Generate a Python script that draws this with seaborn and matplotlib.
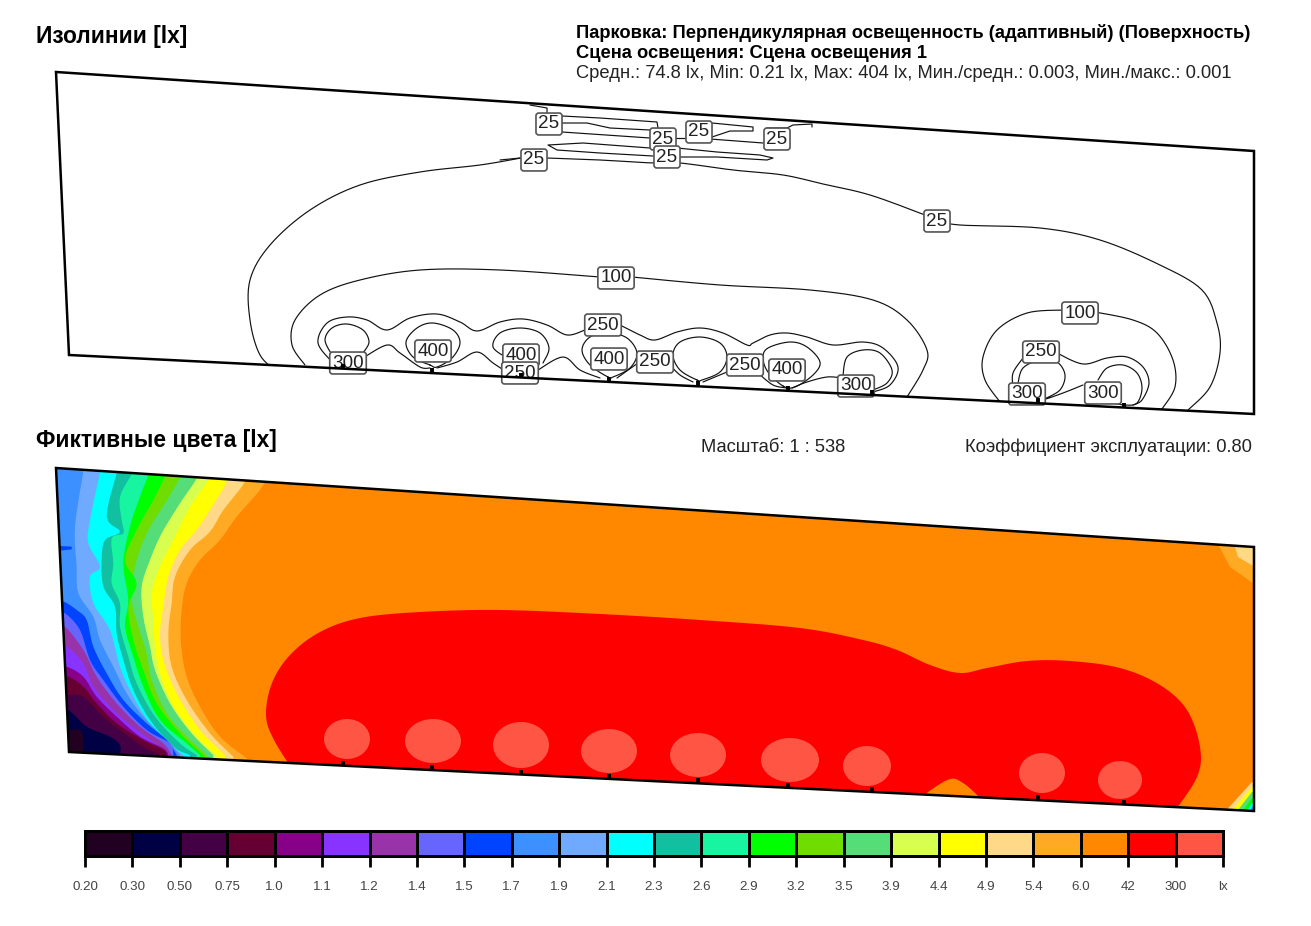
import numpy as np
import seaborn as sns
import matplotlib
matplotlib.use("Agg")
import matplotlib.pyplot as plt
from matplotlib.colors import ListedColormap
from matplotlib.patches import Polygon, Ellipse

# legend of the false colour map
legend_labels = ["0.20", "0.30", "0.50", "0.75", "1.0", "1.1", "1.2", "1.4", "1.5", "1.7", "1.9", "2.1",
                 "2.3", "2.6", "2.9", "3.2", "3.5", "3.9", "4.4", "4.9", "5.4", "6.0", "42", "300", "lx"]
legend_colors = ["#220022", "#000044", "#440044", "#660033", "#880088", "#8833ff", "#9933aa", "#6666ff",
                 "#0044ff", "#3c90ff", "#70aaff", "#00ffff", "#10c0a0", "#18f5a0", "#00ff00", "#70dd00",
                 "#55dd77", "#d8ff50", "#ffff00", "#ffd888", "#ffaa22", "#ff8800", "#ff0000", "#ff5544"]

# site outlines
iso_site = [(56, 72), (1254, 151), (1254, 414), (69, 355)]
color_site = [(56, 468), (1254, 547), (1254, 811), (69, 752)]
lum_x = [343, 432, 521, 609, 698, 788, 872, 1038, 1124]

# band edges of the left side, each band lies left of its edge (5.4 lx down to 0.20 lx)
band_edges = [
    [(680, 10), (670, 75), (590, 170), (540, 240), (480, 300), (440, 370), (425, 450), (423, 550), (440, 650), (480, 740), (540, 830), (620, 895)],
    [(625, 10), (615, 65), (550, 150), (510, 215), (450, 270), (405, 350), (395, 430), (385, 520), (395, 620), (440, 720), (510, 820), (580, 890)],
    [(570, 10), (560, 65), (510, 150), (470, 210), (420, 270), (385, 350), (370, 440), (360, 520), (370, 600), (410, 700), (480, 810), (555, 885)],
    [(515, 10), (505, 60), (450, 140), (400, 240), (360, 320), (335, 400), (340, 480), (345, 560), (360, 640), (400, 740), (470, 830), (530, 885)],
    [(480, 10), (470, 55), (420, 130), (365, 220), (330, 300), (305, 380), (310, 470), (330, 560), (345, 630), (390, 730), (455, 820), (520, 885)],
    [(430, 10), (420, 52), (375, 130), (320, 220), (285, 320), (275, 420), (295, 500), (320, 580), (335, 660), (380, 760), (440, 830), (500, 885)],
    [(385, 10), (375, 48), (340, 120), (290, 210), (255, 300), (290, 370), (265, 440), (280, 540), (310, 630), (350, 730), (420, 820), (490, 885)],
    [(335, 10), (325, 45), (300, 110), (270, 200), (250, 310), (265, 420), (255, 500), (280, 590), (310, 680), (360, 780), (440, 850), (480, 885)],
    [(285, 10), (275, 42), (240, 110), (245, 180), (250, 220), (215, 235), (220, 310), (215, 370), (240, 430), (240, 500), (265, 590), (290, 670), (345, 770), (420, 850), (470, 885)],
    [(240, 10), (230, 40), (200, 170), (240, 215), (195, 240), (185, 300), (190, 380), (225, 440), (230, 520), (250, 600), (280, 690), (330, 780), (400, 860), (450, 885)],
    [(185, 10), (180, 38), (150, 180), (145, 250), (180, 320), (150, 350), (160, 430), (210, 510), (240, 620), (280, 710), (330, 790), (400, 860), (430, 885)],
    [(135, 10), (130, 35), (105, 200), (110, 320), (115, 400), (160, 470), (180, 540), (220, 620), (260, 700), (310, 770), (380, 840), (420, 885)],
    [(40, 420), (72, 425), (110, 450), (140, 480), (160, 560), (200, 640), (250, 720), (320, 790), (380, 840), (410, 885)],
    [(40, 455), (75, 460), (120, 510), (150, 600), (190, 660), (250, 740), (320, 810), (390, 850), (400, 885)],
    [(40, 500), (75, 500), (130, 570), (170, 650), (230, 730), (300, 800), (370, 850), (395, 885)],
    [(40, 560), (80, 560), (130, 610), (160, 680), (220, 750), (290, 810), (360, 860), (390, 885)],
    [(40, 620), (80, 620), (130, 650), (170, 710), (230, 770), (300, 830), (370, 865), (385, 885)],
    [(40, 650), (85, 650), (130, 680), (170, 730), (230, 790), (310, 840), (370, 870), (380, 885)],
    [(40, 705), (85, 705), (130, 710), (190, 770), (240, 810), (310, 860), (360, 885)],
    [(40, 750), (85, 750), (140, 800), (210, 830), (240, 855), (240, 885)],
    [(40, 810), (90, 810), (125, 815), (130, 885)],
]
blue_notch = [(60, 258), (95, 260), (95, 268), (60, 272)]

red_zone = [(296, 775), (274, 740), (266, 715), (272, 683), (290, 655), (320, 632), (360, 618), (420, 612), (500, 610), (600, 614),
            (700, 620), (800, 628), (863, 640), (897, 650), (930, 665), (960, 673), (987, 668), (1027, 661),
            (1070, 661), (1120, 668), (1160, 685), (1187, 710), (1200, 747), (1197, 777), (1172, 815)]
orange_notch = [(920, 800), (928, 792), (950, 779), (963, 783), (977, 795), (985, 805)]
peak_centers = [(347, 739), (433, 741), (521, 745), (609, 751), (698, 755), (790, 760), (867, 766), (1042, 773), (1120, 780)]
peak_radii = [(23, 20), (28, 22), (28, 23), (28, 22), (28, 22), (29, 22), (24, 20), (23, 20), (22, 19)]

top_corner = [((1216, 540), (1230, 567), (1260, 588), "#ffaa22"),
              ((1233, 540), (1238, 557), (1260, 570), "#ffd888")]
low_corner = [((1222, 815), (1252, 782), "#ffd888"), ((1228, 815), (1252, 787), "#ffff00"),
              ((1234, 815), (1252, 792), "#55dd77"), ((1240, 815), (1252, 798), "#00ff00"),
              ((1244, 815), (1252, 803), "#00ffff"), ((1248, 815), (1252, 807), "#3c90ff")]

# isolines, open ones
iso_open = [
    [(521, 158), (480, 165), (420, 172), (360, 185), (310, 210), (270, 245), (250, 280), (250, 320), (260, 355), (278, 372)],
    [(547, 158), (600, 160), (653, 163), (680, 163), (733, 170), (783, 175), (823, 184), (870, 195), (925, 215), (937, 220),
     (960, 225), (1040, 228), (1100, 240), (1160, 265), (1202, 290), (1217, 323), (1220, 353), (1210, 387), (1188, 410)],
    [(600, 277), (500, 270), (420, 270), (360, 280), (320, 295), (295, 320), (292, 345), (305, 365)],
    [(632, 277), (720, 285), (810, 290), (873, 300), (907, 320), (927, 350), (923, 370), (907, 397)],
    [(1063, 310), (1027, 313), (997, 330), (983, 357), (985, 380), (1000, 402)],
    [(1095, 312), (1133, 320), (1157, 333), (1173, 360), (1175, 387), (1162, 409)],
    [(333, 363), (318, 343), (327, 323), (347, 317), (367, 320), (387, 330), (410, 318), (437, 314), (460, 322), (477, 331),
     (500, 322), (523, 319), (547, 325), (567, 335), (585, 330)],
    [(620, 325), (640, 335), (655, 340), (677, 332), (700, 328), (723, 333), (747, 345), (753, 343), (770, 335), (787, 333),
     (807, 337), (833, 345), (863, 342), (883, 348), (898, 367), (890, 385), (873, 392)],
    [(363, 358), (387, 345), (400, 353), (420, 367), (430, 368)],
    [(437, 368), (457, 362), (477, 352), (493, 363), (505, 371)],
    [(538, 370), (563, 357), (580, 370), (600, 378)],
    [(617, 378), (638, 363)],
    [(670, 365), (680, 375), (693, 382)],
    [(703, 382), (727, 372)],
    [(758, 373), (773, 385), (787, 388)],
    [(792, 388), (807, 382), (827, 377), (842, 378)],
    [(332, 355), (325, 340), (332, 328), (347, 324), (363, 330), (369, 342), (363, 353)],
    [(507, 358), (493, 347), (500, 333), (520, 328), (540, 333), (549, 348), (543, 363)],
    [(843, 375), (847, 357), (863, 350), (880, 353), (892, 370), (887, 383), (873, 390)],
    [(1023, 358), (1013, 373), (1013, 387)],
    [(1057, 353), (1083, 364), (1107, 358), (1127, 357), (1143, 367), (1149, 383), (1142, 400), (1133, 405)],
    [(1018, 383), (1023, 368), (1040, 360), (1057, 362), (1065, 375), (1060, 390), (1045, 399), (1063, 393), (1083, 385)],
    [(1098, 380), (1107, 368), (1123, 365), (1137, 373), (1142, 388), (1137, 403), (1125, 405), (1107, 402)],
]
# jagged small lines near the top, drawn without smoothing
iso_jagged = [
    [(530, 105), (547, 108), (547, 113)],
    [(562, 116), (600, 118), (657, 122), (658, 128)],
    [(562, 123), (587, 123), (610, 128), (650, 130)],
    [(562, 132), (650, 138)],
    [(675, 138), (685, 138)],
    [(712, 123), (753, 127), (753, 131), (730, 131), (712, 137)],
    [(710, 139), (763, 143)],
    [(767, 128), (787, 128), (793, 125), (812, 124), (812, 127)],
    [(653, 156), (600, 153), (557, 150), (548, 145), (583, 143), (650, 148), (677, 148), (717, 152), (760, 155), (773, 158),
     (767, 160), (717, 157), (680, 157)],
    [(500, 160), (520, 158)],
]
# closed isolines
iso_closed = [
    [(430, 365), (413, 357), (406, 342), (417, 328), (433, 323), (453, 330), (460, 343), (452, 358), (437, 367)],
    [(608, 377), (590, 365), (582, 350), (590, 337), (608, 333), (627, 338), (637, 353), (630, 368), (613, 377)],
    [(697, 380), (680, 370), (673, 355), (680, 342), (700, 337), (720, 343), (727, 357), (720, 372), (702, 380)],
    [(783, 386), (768, 372), (763, 358), (768, 348), (790, 342), (807, 347), (820, 362), (813, 375), (795, 387)],
]

# later labels cover earlier ones, 250 sits on top of 400 in the middle
iso_labels = [("400", 433, 350), ("400", 521, 354), ("400", 609, 358), ("400", 787, 369),
              ("25", 549, 123), ("25", 663, 138), ("25", 699, 131), ("25", 777, 138), ("25", 534, 159), ("25", 667, 156),
              ("25", 937, 220), ("100", 616, 277), ("100", 1080, 312), ("250", 603, 324), ("250", 520, 372), ("250", 655, 361),
              ("250", 745, 364), ("250", 1041, 351), ("300", 348, 362), ("300", 856, 385), ("300", 1027, 393), ("300", 1103, 392)]


def smooth(points, closed=False, steps=8):
    # catmull-rom through the traced points, keeps the outline on them
    pts = np.array(points, dtype=float)
    if closed:
        pts = np.vstack([pts[-1:], pts, pts[:2]])
    else:
        pts = np.vstack([pts[:1], pts, pts[-1:]])
    out = []
    t = np.linspace(0, 1, steps, endpoint=False)[:, None]
    for i in range(1, len(pts) - 2):
        p0, p1, p2, p3 = pts[i - 1], pts[i], pts[i + 1], pts[i + 2]
        out.append(0.5 * (2 * p1 + (p2 - p0) * t + (2 * p0 - 5 * p1 + 4 * p2 - p3) * t ** 2
                          + (3 * p1 - p0 - 3 * p2 + p3) * t ** 3))
    out = np.vstack(out)
    return np.vstack([out, pts[-2:-1]]) if not closed else np.vstack([out, out[:1]])


def zoom_to_px(points):
    return [(40 + x / 3, 460 + y / 3) for x, y in points]


def edge_y(site, x):
    return np.interp(x, [site[3][0], site[2][0]], [site[3][1], site[2][1]])


sns.set_style("white")
plt.rcParams["font.family"] = ["Liberation Sans", "DejaVu Sans"]

fig = plt.figure(figsize=(13.11, 9.26), dpi=100)
ax = fig.add_axes([0, 0, 1, 1])
ax.set_xlim(0, 1311)
ax.set_ylim(926, 0)
ax.axis("off")

# false colours
clip = Polygon(color_site, closed=True, transform=ax.transData)


def fill(points, color, z=2):
    patch = ax.fill(*np.array(points).T, color=color, lw=0, zorder=z)[0]
    patch.set_clip_path(clip)


fill(color_site, legend_colors[21], 1)
for i, edge in enumerate(band_edges):
    pts = smooth(edge, steps=5)
    outline = [tuple(p) for p in pts] + [(pts[-1][0], 1000), (-100, 1000), (-100, pts[0][1])]
    fill(zoom_to_px(outline), legend_colors[20 - i], 2 + i * 0.01)
fill(zoom_to_px(blue_notch), legend_colors[8], 2.5)

for a, b, c, color in top_corner:
    fill([a, b, c, (1260, 540)], color, 3)
for a, b, color in low_corner:
    fill([a, b, (1260, b[1]), (1260, 815)], color, 3)

fill(smooth(red_zone), legend_colors[22], 4)
fill(smooth(orange_notch), legend_colors[21], 5)
for (cx, cy), (rx, ry) in zip(peak_centers, peak_radii):
    ax.add_patch(Ellipse((cx, cy), 2 * rx, 2 * ry, color=legend_colors[23], lw=0, zorder=5))

# isolines
iso_clip = Polygon(iso_site, closed=True, transform=ax.transData)
for line in iso_open:
    pts = smooth(line)
    ax.plot(pts[:, 0], pts[:, 1], color="#111111", lw=0.85, zorder=2)[0].set_clip_path(iso_clip)
for line in iso_closed:
    pts = smooth(line, closed=True)
    ax.plot(pts[:, 0], pts[:, 1], color="#111111", lw=0.85, zorder=2)[0].set_clip_path(iso_clip)
for line in iso_jagged:
    pts = np.array(line)
    ax.plot(pts[:, 0], pts[:, 1], color="#111111", lw=0.85, zorder=2)

for text, x, y in iso_labels:
    ax.text(x, y + 1, text, fontsize=13.6, color="#222222", ha="center", va="center", zorder=6,
            bbox=dict(boxstyle="round,pad=0.13,rounding_size=0.15", fc="white", ec="#555555", lw=1.2))

# site borders and luminaires
for site in (iso_site, color_site):
    ax.add_patch(Polygon(site, closed=True, fill=False, ec="black", lw=1.8, zorder=7, joinstyle="miter"))
    for x in lum_x:
        y = edge_y(site, x)
        ax.plot([x, x], [y - 5, y], color="black", lw=2.8, zorder=7, solid_capstyle="butt")

# headings
ax.text(36, 37, "Изолинии [lx]", fontsize=16.4, fontweight="bold", va="center", color="black")
ax.text(36, 441, "Фиктивные цвета [lx]", fontsize=16.4, fontweight="bold", va="center", color="black")
ax.text(576, 33, "Парковка: Перпендикулярная освещенность (адаптивный) (Поверхность)", fontsize=13.25, fontweight="bold", va="center", color="black")
ax.text(576, 53, "Сцена освещения: Сцена освещения 1", fontsize=13.25, fontweight="bold", va="center", color="black")
ax.text(576, 74, "Средн.: 74.8 lx, Min: 0.21 lx, Max: 404 lx, Мин./средн.: 0.003, Мин./макс.: 0.001", fontsize=13.25, va="center", color="#222222")
ax.text(701, 448, "Масштаб: 1 : 538", fontsize=13.25, va="center", color="#222222")
ax.text(1252, 447, "Коэффициент эксплуатации: 0.80", fontsize=13.25, ha="right", va="center", color="#222222")

# colour legend
cax = fig.add_axes([85 / 1311, 1 - 856 / 926, 1138 / 1311, 25 / 926])
sns.heatmap(np.arange(len(legend_colors)).reshape(1, -1), ax=cax, cmap=ListedColormap(legend_colors),
            cbar=False, linewidths=2, linecolor="black", xticklabels=False, yticklabels=False)
cax.collections[0].set_clip_on(False)
cax.set_xticks(np.arange(len(legend_labels)))
cax.set_xticklabels(legend_labels, fontsize=9.6, color="#444444")
cax.tick_params(axis="x", bottom=True, length=8, width=2, color="black", pad=10, rotation=0)
cax.set_yticks([])
for s in cax.spines.values():
    s.set_visible(True)
    s.set_color("black")
    s.set_linewidth(2)

fig.savefig("out.png", dpi=100)
